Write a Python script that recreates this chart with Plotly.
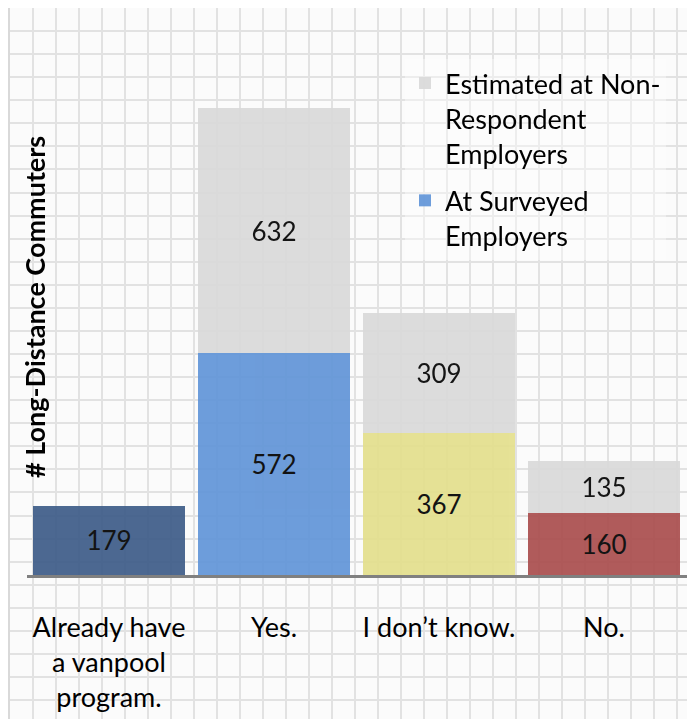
import plotly.graph_objects as go

categories = ["Already have<br>a vanpool<br>program.", "Yes.", "I don\u2019t know.", "No."]
surveyed = [179, 572, 367, 160]
estimated = [None, 632, 309, 135]
surveyed_colors = ["#3d5c88", "#6195d8", "#e4df8d", "#aa4e4e"]
estimated_color = "#d9d9d9"
legend_surveyed = "At Surveyed<br>Employers"
legend_estimated = "Estimated at Non-<br>Respondent<br>Employers"
y_title = "# Long-Distance Commuters"

W, H = 695, 719
FONT = "Lato"

fig = go.Figure()

# invisible trace to hold the background grid subplot
fig.add_trace(go.Scatter(x=[], y=[], xaxis="x", yaxis="y", showlegend=False, hoverinfo="skip"))

for i, (cat, val) in enumerate(zip(categories, surveyed)):
    fig.add_trace(go.Bar(
        x=[cat], y=[val], xaxis="x2", yaxis="y2",
        name=legend_surveyed, legendgroup="surveyed", legendrank=2,
        showlegend=(i == 1),
        marker=dict(color=surveyed_colors[i], line=dict(width=0)),
        opacity=0.92,
        text=[val], textposition="inside", insidetextanchor="middle",
        textangle=0, constraintext="none",
        textfont=dict(size=26, color="black", family=FONT),
    ))

fig.add_trace(go.Bar(
    x=categories, y=estimated, xaxis="x2", yaxis="y2",
    name=legend_estimated, legendgroup="estimated", legendrank=1,
    marker=dict(color=estimated_color, line=dict(width=0)),
    opacity=0.92,
    text=estimated, textposition="inside", insidetextanchor="middle",
    textangle=0, constraintext="none",
    textfont=dict(size=26, color="black", family=FONT),
))

fig.update_layout(
    width=W, height=H,
    margin=dict(l=0, r=0, t=0, b=0),
    paper_bgcolor="#fbfbfb",
    plot_bgcolor="rgba(0,0,0,0)",
    barmode="stack",
    bargap=0.079,
    font=dict(family=FONT, size=26, color="black"),
    showlegend=True,
    legend=dict(
        x=397 / W, y=1 - 51 / H, xanchor="left", yanchor="top",
        traceorder="grouped", tracegroupgap=9, valign="top",
        bgcolor="rgba(255,255,255,0.4)",
        font=dict(size=27, family=FONT, color="black"),
    ),
    xaxis=dict(
        domain=[2 / W, 1], range=[2, W], anchor="y",
        showgrid=True, gridcolor="#e2e2e2", gridwidth=2,
        tick0=2, dtick=23.0, showticklabels=False, zeroline=False,
        side="top", showline=True, linecolor="#d9d9d9", linewidth=3,
        fixedrange=True,
    ),
    yaxis=dict(
        domain=[0, 1], range=[H, 0], anchor="x",
        showgrid=True, gridcolor="#e2e2e2", gridwidth=2,
        tick0=0, dtick=23.07, showticklabels=False, zeroline=False,
        side="left", showline=True, linecolor="#d9d9d9", linewidth=3,
        fixedrange=True,
    ),
    xaxis2=dict(
        domain=[18.5 / W, 678.5 / W], anchor="y2",
        type="category", categoryorder="array", categoryarray=categories,
        showgrid=False, showline=True, linecolor="#808080", linewidth=2.5,
        ticks="outside", ticklen=27, tickcolor="rgba(0,0,0,0)",
        tickfont=dict(size=27, family=FONT, color="black"),
    ),
    yaxis2=dict(
        domain=[1 - 567 / H, 1 - 63 / H], anchor="x2",
        range=[0, 1300], showgrid=False, showticklabels=False,
        zeroline=False, showline=False,
    ),
    annotations=[dict(
        text="<b>" + y_title + "</b>", textangle=-90,
        x=26 / W, y=1 - 299 / H, xref="paper", yref="paper",
        xanchor="center", yanchor="middle",
        showarrow=False, font=dict(size=27, family=FONT, color="black"),
    )],
)

fig.write_html("out.html")
